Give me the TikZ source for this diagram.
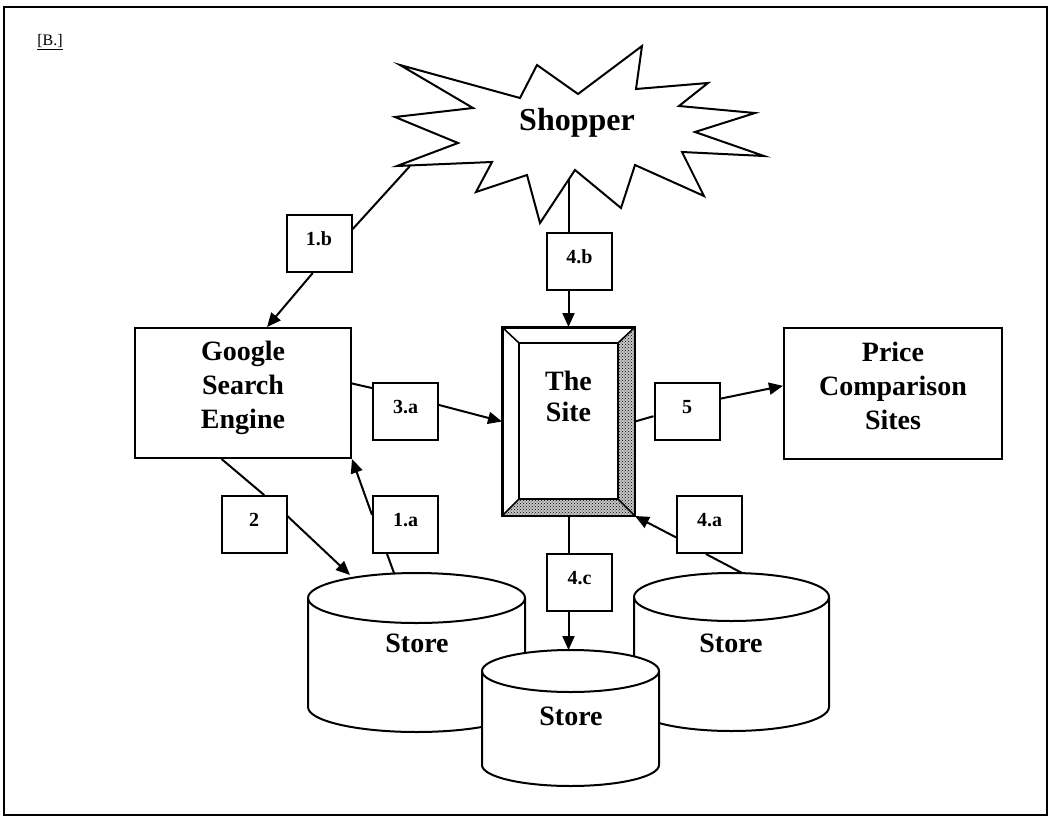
\documentclass[tikz,border=0pt]{standalone}
\usepackage{fontspec}
\setmainfont{Liberation Serif}
\usepackage{tikz}
\usetikzlibrary{shapes, arrows.meta, positioning, patterns}

\begin{document}
\begin{tikzpicture}[x=1pt, y=-1pt,
    bigbox/.style={draw, line width=2pt, align=center, inner sep=0pt, font=\fontsize{28}{34}\selectfont\bfseries},
    numbox/.style={draw, line width=2pt, minimum width=65pt, minimum height=57pt, inner sep=0pt, text depth=9pt, font=\fontsize{20}{24}\selectfont\bfseries},
    storetext/.style={font=\fontsize{28}{34}\selectfont\bfseries},
    link/.style={line width=2pt},
    arrowlink/.style={line width=2pt, -{Triangle[length=14pt, width=12pt]}}]

  \useasboundingbox (0,0) rectangle (1050,817);

  % Outer frame and figure tag
  \draw[line width=2pt] (4,7) rectangle (1047,815);
  \node (figtag) at (50,42) {\fontsize{16}{18}\selectfont\underline{[B.]}};

  % Shopper burst
  \draw[line width=2pt, fill=white] (400,65) -- (520,98) -- (537,65) -- (578,94) -- (642,46) -- (636,89)
    -- (708,83) -- (679,106) -- (755,113) -- (695,132) -- (764,156) -- (682,152) -- (704,196)
    -- (635,165) -- (621,208) -- (575,170) -- (540,223) -- (527,175) -- (476,192) -- (492,162)
    -- (397,166) -- (458,143) -- (395,117) -- (473,108) -- cycle;
  \node (shopper) at (577,123) {\fontsize{32}{36}\selectfont\bfseries Shopper};
  \coordinate (shop1b) at (410,166);
  \coordinate (shop4b) at (568.5,179);

  % Main boxes
  \node (google) [bigbox, minimum width=216pt, minimum height=130pt, text depth=17pt] at (243,393) {Google\\Search\\Engine};
  \node (price) [bigbox, minimum width=218pt, minimum height=131pt, text depth=16pt] at (893,393.5) {Price\\Comparison\\Sites};

  % The Site, with bevelled frame
  \node (site) [bigbox, minimum width=131pt, minimum height=187pt, text depth=50pt,
    font=\fontsize{28}{31}\selectfont\bfseries] at (568.5,421.5) {The\\Site};
  \coordinate (site-nw) at ([shift={(17pt,-16pt)}]site.north west);
  \coordinate (site-ne) at ([shift={(-17pt,-16pt)}]site.north east);
  \coordinate (site-sw) at ([shift={(17pt,17pt)}]site.south west);
  \coordinate (site-se) at ([shift={(-17pt,17pt)}]site.south east);
  \fill[gray!45] (site.north east) -- (site-ne) -- (site-se) -- (site-sw) -- (site.south west) -- (site.south east) -- cycle;
  \fill[pattern=crosshatch dots] (site.north east) -- (site-ne) -- (site-se) -- (site-sw) -- (site.south west) -- (site.south east) -- cycle;
  \draw[line width=1.6pt] (site-nw) rectangle (site-se);
  \draw[line width=1.6pt] (site.north west) -- (site-nw) (site.north east) -- (site-ne)
    (site.south west) -- (site-sw) (site.south east) -- (site-se);
  \draw[line width=2.4pt] (site.south west) rectangle (site.north east);

  % Stores
  \foreach \cx/\rx/\tc/\bc/\ry in {416.5/108.5/598/707/25, 731.5/97.5/597/707/24, 570.5/88.5/671/765/21} {
    \filldraw[line width=2pt, fill=white] (\cx-\rx,\tc) -- (\cx-\rx,\bc)
      arc[start angle=180, end angle=0, x radius=\rx, y radius=\ry] -- (\cx+\rx,\tc)
      arc[start angle=0, end angle=-180, x radius=\rx, y radius=\ry] -- cycle;
    \draw[line width=2pt] (\cx-\rx,\tc) arc[start angle=180, end angle=0, x radius=\rx, y radius=\ry];
  }
  \node (store1) [storetext] at (417,643) {Store};
  \node (store3) [storetext] at (731,643) {Store};
  \node (store2) [storetext] at (571,716) {Store};
  \coordinate (store1-in) at (350,575);
  \coordinate (store1-out) at (394,573);
  \coordinate (store3-out) at (742,573);
  \coordinate (store2-top) at (568.5,650);

  % Step labels
  \node (lbl1b) [numbox] at (319,243.5) {1.b};
  \node (lbl4b) [numbox] at (579.5,261.5) {4.b};
  \node (lbl3a) [numbox] at (405.5,411.5) {3.a};
  \node (lbl5) [numbox] at (687,411.5) {5};
  \node (lbl2) [numbox] at (254,524.5) {2};
  \node (lbl1a) [numbox] at (405.5,524.5) {1.a};
  \node (lbl4a) [numbox] at (709.5,524.5) {4.a};
  \node (lbl4c) [numbox] at (579.5,582) {4.c};

  % Connectors
  \draw[link] (shop1b) -- (lbl1b.23);
  \draw[arrowlink] (lbl1b.258) -- (google.70);
  \draw[link] (google.5) -- (lbl3a.145);
  \draw[arrowlink] (lbl3a.11) -- (site.west);
  \draw[link] (site.east) -- (lbl5.188);
  \draw[arrowlink] (lbl5.21) -- (price.176);
  \draw[link] (shop4b) -- (site.north |- lbl4b.north);
  \draw[arrowlink] (site.north |- lbl4b.south) -- (site.north);
  \draw[link] (site.south) -- (site.south |- lbl4c.north);
  \draw[arrowlink] (site.south |- lbl4c.south) -- (store2-top);
  \draw[link] (store3-out) -- (lbl4a.263);
  \draw[arrowlink] (lbl4a.201) -- (site.south east);
  \draw[link] (google.252) -- (lbl2.71);
  \draw[arrowlink] (lbl2.14) -- (store1-in);
  \draw[link] (store1-out) -- (lbl1a.238);
  \draw[arrowlink] (lbl1a.164) -- (google.south east);

\end{tikzpicture}
\end{document}
